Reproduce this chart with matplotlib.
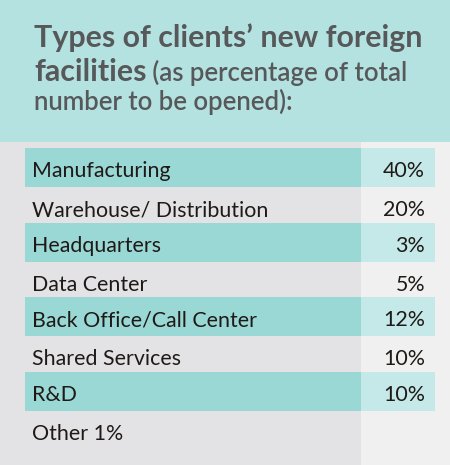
import matplotlib
matplotlib.use("Agg")
import matplotlib.pyplot as plt
from matplotlib.patches import Rectangle

categories = ["Manufacturing", "Warehouse/ Distribution", "Headquarters", "Data Center",
              "Back Office/Call Center", "Shared Services", "R&D", "Other 1%"]
values = ["40%", "20%", "3%", "5%", "12%", "10%", "10%", ""]
title_main = "Types of clients\u2019 new foreign"
title_line2_big = "facilities"
title_line2_small = " (as percentage of total"
title_line3 = "number to be opened):"

HEADER = "#b4e2e1"
TEAL = "#99d8d5"
TEAL_LIGHT = "#c4e9e8"
GRAY_L = "#e3e3e5"
GRAY_R = "#f0f0f0"
TITLE_C = "#57585a"
TEXT_C = "#1f1a17"

plt.rcParams['font.family'] = ['Lato', 'DejaVu Sans']

W, H = 450, 465
fig = plt.figure(figsize=(W / 100, H / 100), dpi=100)
ax = fig.add_axes([0, 0, 1, 1])
ax.set_xlim(0, W)
ax.set_ylim(H, 0)
ax.axis("off")

# header
ax.add_patch(Rectangle((0, 0), W, 142, color=HEADER, lw=0))
# body columns
ax.add_patch(Rectangle((0, 142), 361, H - 142, color=GRAY_L, lw=0))
ax.add_patch(Rectangle((361, 142), W - 361, H - 142, color=GRAY_R, lw=0))

# title
ax.text(34, 47, title_main, fontsize=21.9, fontweight="bold", color=TITLE_C, va="baseline", ha="left")
t2 = ax.text(34, 81, title_line2_big, fontsize=21.9, fontweight="bold", color=TITLE_C, va="baseline", ha="left")
fig.canvas.draw()
bb = t2.get_window_extent()
x_end = ax.transData.inverted().transform((bb.x1, bb.y0))[0]
ax.text(x_end, 81, title_line2_small, fontsize=18.5, fontweight="semibold", color=TITLE_C, va="baseline", ha="left")
ax.text(34, 110, title_line3, fontsize=18.5, fontweight="semibold", color=TITLE_C, va="baseline", ha="left")

# rows
y = 148.0
for i, (cat, val) in enumerate(zip(categories, values)):
    h = 39.0 if i % 2 == 0 else 35.5
    if i % 2 == 0 and val:
        ax.add_patch(Rectangle((25, y), 336, h, color=TEAL, lw=0))
        ax.add_patch(Rectangle((361, y), 74, h, color=TEAL_LIGHT, lw=0))
    ax.text(32, y + 29, cat, fontsize=15.4, color=TEXT_C, va="baseline", ha="left")
    if val:
        ax.text(425, y + 29, val, fontsize=15.4, color=TEXT_C, va="baseline", ha="right")
    y += h

fig.savefig("out.png", dpi=100)
